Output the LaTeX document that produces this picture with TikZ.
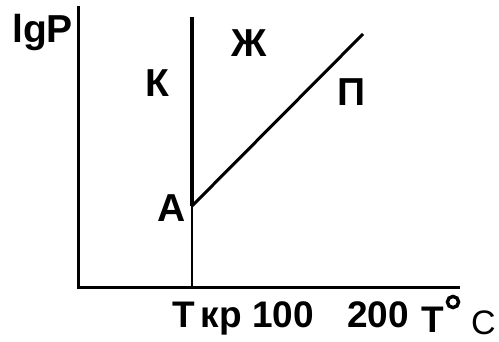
\documentclass[tikz,border=0pt]{standalone}
\usepackage{fontspec}
\setmainfont{Liberation Sans}
\begin{document}
\begin{tikzpicture}[x=1pt,y=-1pt,
  lbl/.style={inner sep=0pt,anchor=base west,font=\fontsize{39}{39}\selectfont\bfseries},
  blbl/.style={inner sep=0pt,anchor=base west,font=\fontsize{37}{37}\selectfont\bfseries},
  axis/.style={line width=3pt},
  thick line/.style={line width=4pt},
  thin line/.style={line width=2pt}]
\useasboundingbox (0,0) rectangle (499,342);
\coordinate (ytop) at (78,6);
\coordinate (o) at (78,288);
\coordinate (xend) at (460,288);
\coordinate (vtop) at (192,17);
\coordinate (a) at (192,206);
\coordinate (vbot) at (192,288);
\coordinate (ptop) at (363,34);
\draw[axis] (ytop) -- (o) -- (xend);
\draw[thick line] (vtop) -- (a);
\draw[thin line] (a) -- (vbot);
\draw[axis] (a) -- (ptop);
\node[lbl] (lgp) at (12,43) {lgP};
\node[lbl] (k) at (145,97) {К};
\node[lbl] (zh) at (231,57) {Ж};
\node[lbl] (p) at (337,106) {П};
\node[lbl] (alab) at (157,222) {А};
\node[blbl] (tkr) at (172,328) {Т\,кр 100};
\node[blbl] (t200) at (347,328) {200};
\node[blbl] (tdeg) at (421,333) {Т};
\node[inner sep=0pt] (deg) at (453,302) {};
\draw[line width=3.4pt] (deg) circle (5.6pt);
\node[blbl,font=\fontsize{34}{34}\selectfont] (c) at (471,335) {C};
\end{tikzpicture}
\end{document}
